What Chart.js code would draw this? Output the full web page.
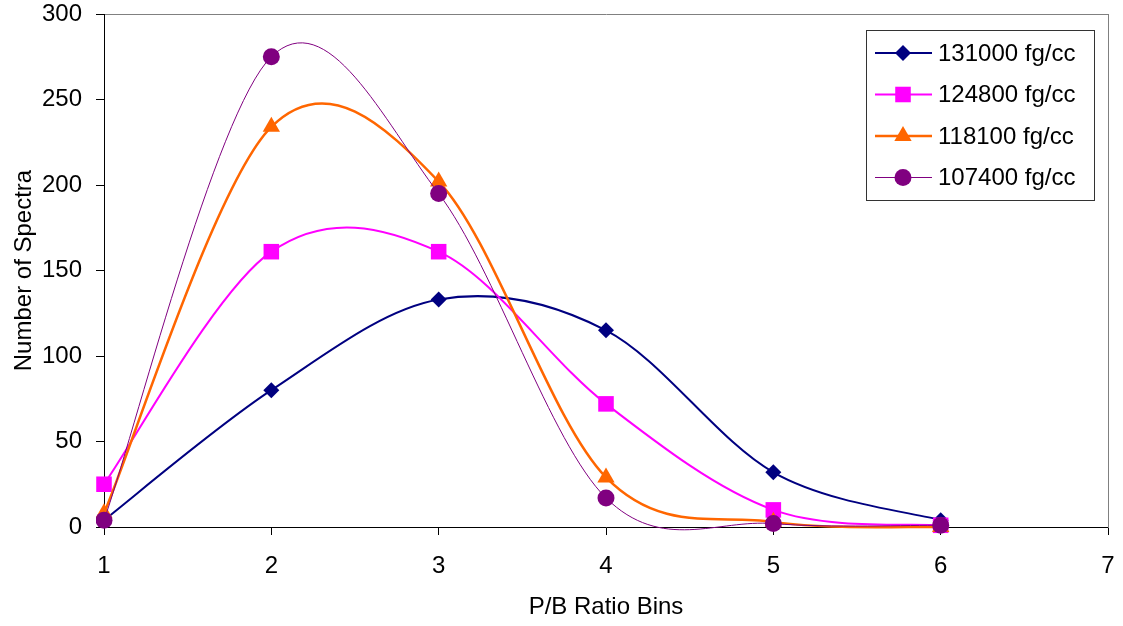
<!DOCTYPE html>
<html>
<head>
<meta charset="utf-8">
<script src="https://cdn.jsdelivr.net/npm/chart.js@4.4.0/dist/chart.umd.min.js"></script>
<style>
  html, body { margin: 0; padding: 0; background: #fff; }
  #wrap { width: 1123px; height: 626px; }
</style>
</head>
<body>
<div id="wrap"><canvas id="chart" width="1123" height="626"></canvas></div>
<script>
// data
const bins = [1, 2, 3, 4, 5, 6];
const labels = ['131000 fg/cc', '124800 fg/cc', '118100 fg/cc', '107400 fg/cc'];
const s131000 = [4, 80, 133, 115, 32, 4];
const s124800 = [25, 161, 161, 72, 10, 1];
const s118100 = [8, 234, 202, 29, 3, 0];
const s107400 = [4, 275, 195, 17, 2, 1];
const yTicks = [0, 50, 100, 150, 200, 250, 300];
const xTicks = [1, 2, 3, 4, 5, 6, 7];

const FONT = 'Liberation Sans, Arial, sans-serif';

function pts(values) {
    return values.map((v, i) => ({ x: bins[i], y: v }));
}

const styles = [
    { color: '#000080', width: 2, point: 'rectRot', radius: 8 },
    { color: '#FF00FF', width: 2, point: 'rect', radius: 11 },
    { color: '#FF6600', width: 2.5, point: 'triangle', radius: 10 },
    { color: '#800080', width: 1, point: 'circle', radius: 8.5 },
];

const series = [s131000, s124800, s118100, s107400];

const datasets = series.map((s, i) => ({
    label: labels[i],
    data: pts(s),
    borderColor: styles[i].color,
    backgroundColor: styles[i].color,
    borderWidth: styles[i].width,
    pointStyle: styles[i].point,
    pointRadius: styles[i].radius,
    pointBorderWidth: 0,
    tension: 0.4,
    order: series.length - 1 - i,   // last series on top, like the original
    clip: 8,
}));

// no extra room for labels, the layout padding decides the plot box
function noPad(scale) {
    scale.paddingTop = 0;
    scale.paddingBottom = 0;
    scale.paddingLeft = 0;
    scale.paddingRight = 0;
}

// excel style smoothing: plain catmull-rom control points instead of
// chart.js distance weighted ones
const excelSmooth = {
    id: 'excelSmooth',
    beforeDatasetDraw(chart, args) {
        const meta = args.meta;
        if (meta.dataset && typeof meta.dataset.updateControlPoints === 'function') {
            meta.dataset.updateControlPoints(chart.chartArea, 'x');
        }
        const p = meta.data;
        const n = p.length;
        for (let i = 0; i < n; i++) {
            const prev = p[Math.max(i - 1, 0)];
            const next = p[Math.min(i + 1, n - 1)];
            const tx = (next.x - prev.x) / 6;
            const ty = (next.y - prev.y) / 6;
            p[i].cp1x = p[i].x - tx;
            p[i].cp1y = p[i].y - ty;
            p[i].cp2x = p[i].x + tx;
            p[i].cp2y = p[i].y + ty;
        }
    }
};

// legend box drawn inside the plot, top right
const boxLegend = {
    id: 'boxLegend',
    afterDraw(chart) {
        const ctx = chart.ctx;
        const area = chart.chartArea;
        const w = 228, h = 170;
        const x0 = area.right - 14 - w;
        const y0 = area.top + 16;
        ctx.save();
        ctx.fillStyle = '#fff';
        ctx.fillRect(x0, y0, w, h);
        ctx.strokeStyle = '#333';
        ctx.lineWidth = 1;
        ctx.strokeRect(x0 + 0.5, y0 + 0.5, w, h);
        ctx.font = '24px ' + FONT;
        ctx.textBaseline = 'middle';
        chart.data.datasets.forEach((ds, i) => {
            const cy = y0 + 23 + i * 41.5;
            ctx.strokeStyle = ds.borderColor;
            ctx.lineWidth = ds.borderWidth;
            ctx.beginPath();
            ctx.moveTo(x0 + 9, cy);
            ctx.lineTo(x0 + 66, cy);
            ctx.stroke();
            ctx.fillStyle = ds.backgroundColor;
            Chart.helpers.drawPoint(ctx, {
                pointStyle: ds.pointStyle,
                radius: ds.pointRadius,
                rotation: 0,
                borderWidth: 0,
            }, x0 + 37, cy);
            ctx.fillStyle = '#000';
            ctx.fillText(ds.label, x0 + 72, cy + 1);
        });
        ctx.restore();
    }
};

new Chart(document.getElementById('chart'), {
    type: 'line',
    data: { datasets: datasets },
    plugins: [excelSmooth, boxLegend],
    options: {
        responsive: false,
        animation: false,
        layout: { padding: { left: 0, top: 14, right: 15, bottom: 0 } },
        plugins: {
            legend: { display: false },
            tooltip: { enabled: false },
        },
        scales: {
            x: {
                type: 'linear',
                position: 'bottom',
                min: 1,
                max: 7,
                afterBuildTicks: (scale) => { scale.ticks = xTicks.map(v => ({ value: v })); },
                afterFit: (scale) => { scale.height = 99; noPad(scale); },
                grid: { drawOnChartArea: false, drawTicks: true, tickLength: 8, color: '#000' },
                border: { color: '#000', width: 1 },
                ticks: { color: '#000', font: { family: FONT, size: 24 }, padding: 17, maxRotation: 0 },
                title: { display: true, text: 'P/B Ratio Bins', color: '#000', font: { family: FONT, size: 24 }, padding: { top: 8 } },
            },
            xTop: {
                type: 'linear',
                position: 'top',
                min: 1,
                max: 7,
                afterFit: (scale) => { scale.height = 0; noPad(scale); },
                grid: { display: true, drawOnChartArea: false, drawTicks: false },
                border: { color: '#808080', width: 1 },
                ticks: { display: false },
            },
            y: {
                type: 'linear',
                position: 'left',
                min: 0,
                max: 300,
                afterBuildTicks: (scale) => { scale.ticks = yTicks.map(v => ({ value: v })); },
                afterFit: (scale) => { scale.width = 104; noPad(scale); },
                grid: { drawOnChartArea: false, drawTicks: true, tickLength: 8, color: '#000' },
                border: { color: '#000', width: 1 },
                ticks: { color: '#000', font: { family: FONT, size: 24 }, padding: 14 },
                title: { display: true, text: 'Number of Spectra', color: '#000', font: { family: FONT, size: 24 }, padding: { top: 10, bottom: 4 } },
            },
            yRight: {
                type: 'linear',
                position: 'right',
                min: 0,
                max: 300,
                afterFit: (scale) => { scale.width = 0; noPad(scale); },
                grid: { display: true, drawOnChartArea: false, drawTicks: false },
                border: { color: '#808080', width: 1 },
                ticks: { display: false },
            },
        },
    },
});
</script>
</body>
</html>
